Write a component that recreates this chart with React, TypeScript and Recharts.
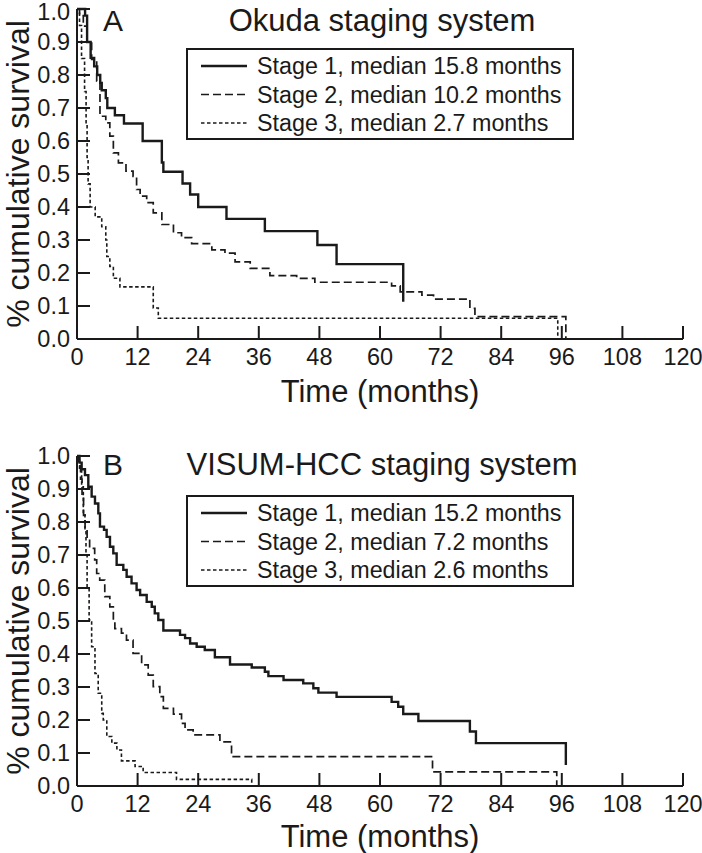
import React from 'react';
import { LineChart, Line, XAxis, YAxis, Legend } from 'recharts';

// months on the x axis, survival fraction on the y axis
const monthTicks = [0, 12, 24, 36, 48, 60, 72, 84, 96, 108, 120];
const survivalTicks = [0, 0.1, 0.2, 0.3, 0.4, 0.5, 0.6, 0.7, 0.8, 0.9, 1.0];

// Panel A – Okuda staging system, [month, survival]
const okudaStage1 = [
  [0, 1], [1.6, 0.98], [2.0, 0.9], [2.7, 0.852], [3.4, 0.826], [4.0, 0.8], [4.6, 0.776],
  [4.9, 0.754], [5.7, 0.73], [6.0, 0.7], [7.5, 0.678], [9.3, 0.653], [13.0, 0.6],
  [16.8, 0.535], [17.1, 0.507], [20.9, 0.471], [22.4, 0.438], [24.0, 0.4], [29.6, 0.364],
  [37.2, 0.327], [47.6, 0.285], [51.4, 0.227], [64.6, 0.113],
];
const okudaStage2 = [
  [0, 1], [0.5, 0.98], [1.25, 0.948], [2.0, 0.897], [2.9, 0.847], [3.9, 0.781], [4.55, 0.675],
  [5.7, 0.655], [6.5, 0.615], [7.2, 0.564], [8.2, 0.534], [9.7, 0.509], [11.1, 0.493],
  [11.8, 0.453], [12.5, 0.433], [13.8, 0.413], [15.1, 0.382], [16.8, 0.347], [19.1, 0.322],
  [20.7, 0.307], [22.7, 0.289], [26.7, 0.27], [29.3, 0.26], [31.3, 0.234], [34.3, 0.214],
  [38.2, 0.192], [43.5, 0.184], [47.1, 0.172], [62.3, 0.161], [64.0, 0.143], [68.3, 0.133],
  [70.6, 0.121], [77.8, 0.093], [78.8, 0.068], [96.8, 0],
];
const okudaStage3 = [
  [0, 1], [0.5, 0.95], [0.9, 0.85], [1.5, 0.75], [1.8, 0.65], [2.0, 0.55], [2.2, 0.47],
  [2.6, 0.4], [3.6, 0.37], [4.9, 0.34], [5.7, 0.3], [5.9, 0.25], [6.5, 0.22], [7.2, 0.184],
  [8.5, 0.158], [15.1, 0.094], [16.1, 0.063], [95.2, 0],
];
const okudaLabels = [
  'Stage 1, median 15.8 months',
  'Stage 2, median 10.2 months',
  'Stage 3, median 2.7 months',
];

// Panel B – VISUM-HCC staging system
const visumStage1 = [
  [0, 1], [0.5, 0.98], [0.92, 0.96], [1.58, 0.942], [2.24, 0.907], [2.9, 0.877], [3.56, 0.856],
  [4.22, 0.826], [4.55, 0.786], [5.35, 0.776], [5.87, 0.755], [6.53, 0.725], [7.19, 0.705],
  [7.85, 0.67], [9.17, 0.655], [9.83, 0.634], [10.8, 0.614], [11.8, 0.594], [12.5, 0.579],
  [13.8, 0.558], [14.8, 0.543], [15.4, 0.523], [16.1, 0.503], [17.1, 0.471], [20.4, 0.458],
  [21.4, 0.448], [22.4, 0.432], [23.7, 0.422], [25.3, 0.412], [27.3, 0.39], [30.3, 0.368],
  [34.6, 0.359], [37.2, 0.346], [37.9, 0.333], [40.9, 0.321], [44.8, 0.311], [46.8, 0.296],
  [47.8, 0.283], [51.4, 0.27], [62.3, 0.255], [63.6, 0.24], [64.6, 0.218], [67.6, 0.197],
  [77.8, 0.165], [79.0, 0.13], [96.8, 0.064],
];
const visumStage2 = [
  [0, 1], [0.3, 0.97], [0.7, 0.93], [1.0, 0.88], [1.3, 0.82], [1.6, 0.78], [2.0, 0.75],
  [2.5, 0.72], [3.5, 0.685], [3.9, 0.644], [4.5, 0.624], [5.5, 0.574], [6.5, 0.543],
  [7.2, 0.503], [7.5, 0.477], [8.8, 0.463], [9.8, 0.442], [11.1, 0.402], [12.8, 0.367],
  [14.1, 0.336], [15.1, 0.301], [16.4, 0.271], [17.1, 0.235], [19.1, 0.218], [20.7, 0.19],
  [21.4, 0.17], [23.0, 0.155], [28.3, 0.134], [30.6, 0.089], [70.4, 0.043], [95.0, 0],
];
const visumStage3 = [
  [0, 1], [0.5, 0.96], [0.92, 0.907], [1.25, 0.826], [1.58, 0.776], [1.78, 0.705], [2.0, 0.604],
  [2.4, 0.503], [2.9, 0.422], [3.56, 0.341], [4.2, 0.281], [4.9, 0.22], [5.2, 0.2], [5.9, 0.15],
  [6.9, 0.13], [7.9, 0.109], [8.8, 0.076], [11.5, 0.059], [13.1, 0.041], [19.7, 0.02], [34.6, 0],
];
const visumLabels = [
  'Stage 1, median 15.2 months',
  'Stage 2, median 7.2 months',
  'Stage 3, median 2.6 months',
];

const FONT = '"Liberation Sans", Arial, Helvetica, sans-serif';
const INK = '#1a1a1a';
const strokes = [
  { width: 2.4, dash: undefined },
  { width: 1.7, dash: '8 4' },
  { width: 1.6, dash: '3.5 2.5' },
];

const toRows = (pts: number[][]) => pts.map(([t, s]) => ({ t, s }));

const YTick = (props: any) => {
  const { x, y, payload, topNudge } = props;
  const ax = x + 7;
  const dy = payload.value === 1 ? topNudge : 0;
  return (
    <g>
      <line x1={ax} x2={ax + 13} y1={y} y2={y} stroke={INK} strokeWidth={2} />
      <text x={x} y={y + dy} textAnchor="end" dominantBaseline="central" fontSize={23.5} fontFamily={FONT} fill={INK}>
        {Number(payload.value).toFixed(1)}
      </text>
    </g>
  );
};

const XTick = (props: any) => {
  const { x, y, payload } = props;
  const ay = y - 7;
  return (
    <g>
      <line x1={x} x2={x} y1={ay} y2={ay - 13} stroke={INK} strokeWidth={2} />
      <text x={x} y={ay + 26} textAnchor="middle" fontSize={23.5} fontFamily={FONT} fill={INK}>
        {payload.value}
      </text>
    </g>
  );
};

const makeLegend = (labels: string[]) => () => (
  <svg width={388} height={92}>
    <rect x={1} y={1} width={386} height={90} fill="#fff" stroke={INK} strokeWidth={2} />
    {labels.map((label, i) => (
      <g key={label}>
        <line x1={15} x2={61} y1={18 + i * 28.5} y2={18 + i * 28.5} stroke={INK}
          strokeWidth={strokes[i].width} strokeDasharray={strokes[i].dash} />
        <text x={71} y={26 + i * 28.5} fontSize={23.3} fontFamily={FONT} fill={INK}>{label}</text>
      </g>
    ))}
  </svg>
);

interface PanelProps {
  top: number;
  height: number;
  plotTop: number;
  topNudge: number;
  letter: string;
  title: string;
  titleY: number;
  timeY: number;
  series: number[][][];
  labels: string[];
}

const Panel = ({ top, height, plotTop, topNudge, letter, title, titleY, timeY, series, labels }: PanelProps) => {
  const plotBottom = plotTop + 330;
  const midY = (plotTop + plotBottom) / 2;
  return (
    <div style={{ position: 'absolute', left: 0, top, width: 702, height }}>
      <LineChart width={702} height={height}
        margin={{ top: plotTop, right: 19, bottom: height - plotBottom - 1, left: 76 }}>
        <XAxis type="number" dataKey="t" domain={[0, 120]} ticks={monthTicks} height={1}
          tickSize={0} tickMargin={7} tick={<XTick />} axisLine={{ stroke: INK, strokeWidth: 2 }}
          tickLine={false} interval={0} allowDataOverflow />
        <YAxis type="number" dataKey="s" domain={[0, 1]} ticks={survivalTicks} width={1}
          tickSize={0} tickMargin={7} tick={<YTick topNudge={topNudge} />}
          axisLine={{ stroke: INK, strokeWidth: 2 }} tickLine={false} interval={0} />
        {series.map((pts, i) => (
          <Line key={i} data={toRows(pts)} dataKey="s" type="stepAfter" stroke={INK}
            strokeWidth={strokes[i].width} strokeDasharray={strokes[i].dash} dot={false}
            activeDot={false} isAnimationActive={false} name={labels[i]} />
        ))}
        <Legend layout="vertical" align="center" verticalAlign="middle" content={makeLegend(labels)}
          wrapperStyle={{ left: 186, top: plotTop + 39, width: 388, height: 92 }} />
      </LineChart>
      <svg width={702} height={height} style={{ position: 'absolute', left: 0, top: 0, pointerEvents: 'none' }}>
        <text x={103} y={titleY} fontSize={30} fontFamily={FONT} fill={INK}>{letter}</text>
        <text x={382} y={titleY} textAnchor="middle" fontSize={31} fontFamily={FONT} fill={INK}>{title}</text>
        <text x={380} y={timeY} textAnchor="middle" fontSize={31} fontFamily={FONT} fill={INK}>Time (months)</text>
        <text transform={`translate(29, ${midY}) rotate(-90)`} textAnchor="middle" fontSize={32}
          fontFamily={FONT} fill={INK}>
          % cumulative survival
        </text>
      </svg>
    </div>
  );
};

export default function App() {
  return (
    <div style={{ position: 'absolute', left: 0, top: 0, width: 702, height: 853, overflow: 'hidden', background: '#fff' }}>
      <Panel top={0} height={420} plotTop={9} topNudge={3} letter="A" title="Okuda staging system"
        titleY={31} timeY={402} series={[okudaStage1, okudaStage2, okudaStage3]} labels={okudaLabels} />
      <Panel top={420} height={433} plotTop={36} topNudge={0} letter="B" title="VISUM-HCC staging system"
        titleY={55} timeY={427} series={[visumStage1, visumStage2, visumStage3]} labels={visumLabels} />
    </div>
  );
}
